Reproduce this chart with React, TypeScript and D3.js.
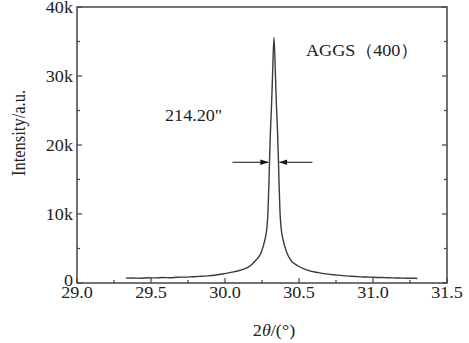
import React from "react";
import * as d3 from "d3";

const twoTheta = [
  29.33, 29.38, 29.43, 29.48, 29.53, 29.58, 29.63, 29.68, 29.73, 29.78, 29.83, 29.88,
  29.93, 29.98, 30.031, 30.111, 30.171, 30.208, 30.246, 30.269, 30.283, 30.29, 30.297,
  30.3005, 30.3075, 30.315, 30.321, 30.331, 30.341, 30.347, 30.3545, 30.3615, 30.365,
  30.372, 30.379, 30.393, 30.416, 30.444, 30.491, 30.551, 30.631, 30.68, 30.73, 30.78,
  30.83, 30.88, 30.93, 30.98, 31.03, 31.08, 31.13, 31.18, 31.23, 31.28, 31.3
];
const intensity = [
  700, 720, 690, 760, 740, 790, 770, 840, 850, 900, 960, 1030,
  1130, 1300, 1500, 1900, 2500, 3300, 4500, 6200, 8000, 10100, 14500,
  17500, 22200, 26000, 30000, 35600, 30000, 26000, 22200, 17500, 14500,
  10100, 8000, 6200, 4500, 3300, 2500, 1900, 1500, 1320, 1200, 1100,
  1000, 950, 880, 850, 800, 780, 740, 720, 690, 680, 650
];
const xTicks = [29.0, 29.5, 30.0, 30.5, 31.0, 31.5];
const xMinor = [29.25, 29.75, 30.25, 30.75, 31.25];
const yTicks = [0, 10000, 20000, 30000, 40000];
const yMinor = [5000, 15000, 25000, 35000];
const yTickLabels = ["0", "10k", "20k", "30k", "40k"];
const peakLabel = "AGGS（400）";
const fwhmLabel = "214.20\"";
const fwhmLeft = 30.3;
const fwhmRight = 30.361;
const fwhmLevel = 17500;

const font = "'Liberation Serif', 'Times New Roman', serif";

function T(props: { x: number; y: number; anchor?: string; size?: number; children: React.ReactNode }) {
  const { x, y, anchor = "start", size = 16.5, children } = props;
  return (
    <text
      transform={`translate(${x},${y}) scale(1.1,1)`}
      textAnchor={anchor}
      fontFamily={font}
      fontSize={size}
      fill="#222"
    >
      {children}
    </text>
  );
}

export default function App() {
  const W = 469, H = 343;
  const x = d3.scaleLinear().domain([29, 31.5]).range([77, 447]);
  const y = d3.scaleLinear().domain([0, 40000]).range([283, 7]);
  const pts = twoTheta.map((t, i) => [t, intensity[i]] as [number, number]);
  const line = d3.line<[number, number]>().x(d => x(d[0])).y(d => y(d[1])).curve(d3.curveMonotoneX);
  const stroke = "#3a3a3a";
  const ay = y(fwhmLevel);
  return (
    <svg width={W} height={H} style={{ position: "absolute", left: 0, top: 0, background: "#fff" }}>
      <defs>
        <marker id="ah" viewBox="0 0 10 10" refX="10" refY="5" markerWidth="8" markerHeight="8" orient="auto-start-reverse" markerUnits="userSpaceOnUse">
          <path d="M0,1.5 L10,5 L0,8.5 Z" fill="#111" />
        </marker>
      </defs>
      <rect x={x(29)} y={y(40000)} width={x(31.5) - x(29)} height={y(0) - y(40000)} fill="none" stroke="#444" strokeWidth={1.5} />
      {xTicks.map(t => (
        <line key={"xt" + t} x1={x(t)} x2={x(t)} y1={y(0)} y2={y(0) - 5} stroke="#444" strokeWidth={1.2} />
      ))}
      {xMinor.map(t => (
        <line key={"xm" + t} x1={x(t)} x2={x(t)} y1={y(0)} y2={y(0) - 3} stroke="#444" strokeWidth={1.2} />
      ))}
      {yTicks.map(t => (
        <g key={"yt" + t}>
          <line x1={x(29)} x2={x(29) + 5} y1={y(t)} y2={y(t)} stroke="#444" strokeWidth={1.2} />
          <line x1={x(31.5)} x2={x(31.5) - 5} y1={y(t)} y2={y(t)} stroke="#444" strokeWidth={1.2} />
        </g>
      ))}
      {yMinor.map(t => (
        <g key={"ym" + t}>
          <line x1={x(29)} x2={x(29) + 3} y1={y(t)} y2={y(t)} stroke="#444" strokeWidth={1.2} />
          <line x1={x(31.5)} x2={x(31.5) - 3} y1={y(t)} y2={y(t)} stroke="#444" strokeWidth={1.2} />
        </g>
      ))}
      {xTicks.map(t => (
        <T key={"xl" + t} x={x(t)} y={y(0) + 15} anchor="middle">{t.toFixed(1)}</T>
      ))}
      {yTicks.map((t, i) => (
        <T key={"yl" + t} x={x(29) - 4} y={y(t) + (t === 0 ? 3 : 6)} anchor="end">{yTickLabels[i]}</T>
      ))}
      <T x={274} y={336} anchor="middle">
        2<tspan fontStyle="italic">θ</tspan>/(°)
      </T>
      <text transform="translate(25,133) rotate(-90) scale(1,1.1)" textAnchor="middle" fontFamily={font} fontSize={16.5} fill="#222">
        Intensity/a.u.
      </text>
      <path d={line(pts) || ""} fill="none" stroke={stroke} strokeWidth={1.4} />
      <T x={306} y={56}>{peakLabel}</T>
      <T x={165} y={121}>{fwhmLabel}</T>
      <line x1={x(fwhmLeft) - 37} x2={x(fwhmLeft) - 1} y1={ay} y2={ay} stroke="#111" strokeWidth={1.2} markerEnd="url(#ah)" />
      <line x1={x(fwhmRight) + 34} x2={x(fwhmRight) + 1} y1={ay} y2={ay} stroke="#111" strokeWidth={1.2} markerEnd="url(#ah)" />
    </svg>
  );
}
